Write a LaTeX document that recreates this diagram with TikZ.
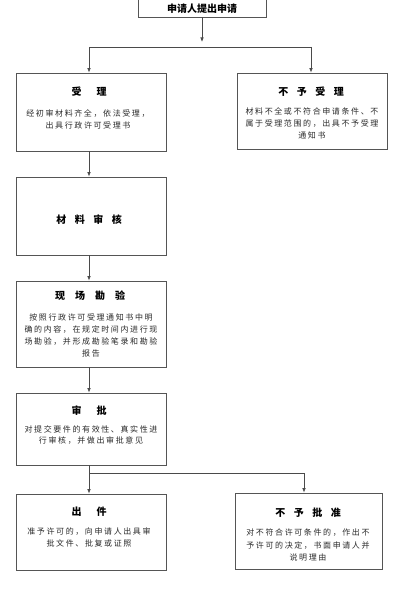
\documentclass[tikz,border=0pt]{standalone}
\usepackage{fontspec}
\usetikzlibrary{arrows.meta}
\newfontfamily\cjk{Noto Sans CJK SC}
\newfontfamily\cjkbody[LetterSpace=20]{Noto Sans CJK SC}
\definecolor{edge}{HTML}{555555}
\definecolor{wire}{HTML}{4A4A4A}
\definecolor{bodytext}{HTML}{2A2A2A}
\tikzset{
  box/.style={draw=edge, line width=0.8pt, inner sep=0pt, fill=white},
  ttl/.style={font=\cjk\bfseries\fontsize{10}{12}\selectfont, text=black, inner sep=0pt},
  bodytxt/.style={font=\cjkbody\fontsize{8}{12}\selectfont, text=bodytext, align=center, inner sep=0pt},
  wireline/.style={draw=wire, line width=0.7pt},
  arr/.style={wireline, -{Latex[length=4.5pt,width=3.6pt]}}
}
\begin{document}
\begin{tikzpicture}[x=1pt,y=-1pt]
\useasboundingbox[fill=white] (0,0) rectangle (400,607);

% boxes
\node[box, minimum width=128pt, minimum height=20pt] (top) at (202,7) {};
\node[box, minimum width=150pt, minimum height=78pt] (acc) at (91,112) {};
\node[box, minimum width=150pt, minimum height=76pt] (rej) at (312,111) {};
\node[box, minimum width=150pt, minimum height=78pt] (mat) at (91,216) {};
\node[box, minimum width=150pt, minimum height=86pt] (site) at (91,324) {};
\node[box, minimum width=150pt, minimum height=72pt] (appr) at (91,429) {};
\node[box, minimum width=150pt, minimum height=76pt] (issue) at (91,532) {};
\node[box, minimum width=147pt, minimum height=76pt] (deny) at (308.5,531) {};

% texts
\node[ttl] (topt) at (202,9) {申请人提出申请};

\node[ttl] (acct) at (89,92) {受\hspace{15pt}理};
\node[bodytxt] (accb) at (88,119) {经初审材料齐全，依法受理，\\出具行政许可受理书};

\node[ttl] (rejt) at (311,92) {不\hspace{8.5pt}予\hspace{8.5pt}受\hspace{8.5pt}理};
\node[bodytxt] (rejb) at (312,123.5) {材料不全或不符合申请条件、不\\属于受理范围的，出具不予受理\\通知书};

\node[ttl] (matt) at (89,220) {材\hspace{8.5pt}料\hspace{8.5pt}审\hspace{8.5pt}核};

\node[ttl] (sitet) at (90,296) {现\hspace{10pt}场\hspace{10pt}勘\hspace{10pt}验};
\node[bodytxt] (siteb) at (91,335) {按照行政许可受理通知书中明\\确的内容，在规定时间内进行现\\场勘验，并形成勘验笔录和勘验\\报告};

\node[ttl] (apprt) at (89,411) {审\hspace{15pt}批};
\node[bodytxt, font=\cjkbody\fontsize{8}{11}\selectfont] (apprb) at (91,435.5) {对提交要件的有效性、真实性进\\行审核，并做出审批意见};

\node[ttl] (issuet) at (89,512) {出\hspace{15pt}件};
\node[bodytxt] (issueb) at (89,537) {准予许可的，向申请人出具审\\批文件、批复或证照};

\node[ttl] (denyt) at (308,513) {不\hspace{8.5pt}予\hspace{8.5pt}批\hspace{8.5pt}准};
\node[bodytxt, font=\cjkbody\fontsize{8}{12.5}\selectfont] (denyb) at (308,545) {对不符合许可条件的，作出不\\予许可的决定，书面申请人并\\说明理由};

% connectors
\coordinate (j1) at (202,42);
\coordinate (hl) at (89,47);
\coordinate (hr) at (311,47);
\draw[arr] (top.south) -- (j1);
\draw[wireline] (hl) -- (hr);
\draw[arr] (hl) -- (hl |- acc.north);
\draw[arr] (hr) -- (hr |- rej.north);

\coordinate (c1) at (89,0);
\draw[arr] (c1 |- acc.south) -- (c1 |- mat.north);
\draw[arr] (c1 |- mat.south) -- (c1 |- site.north);
\draw[arr] (c1 |- site.south) -- (c1 |- appr.north);

\coordinate (bl) at (89,473);
\coordinate (br) at (304,473);
\draw[wireline] (c1 |- appr.south) -- (bl) -- (br);
\draw[arr] (bl) -- (bl |- issue.north);
\draw[arr] (br) -- (br |- deny.north);
\end{tikzpicture}
\end{document}
